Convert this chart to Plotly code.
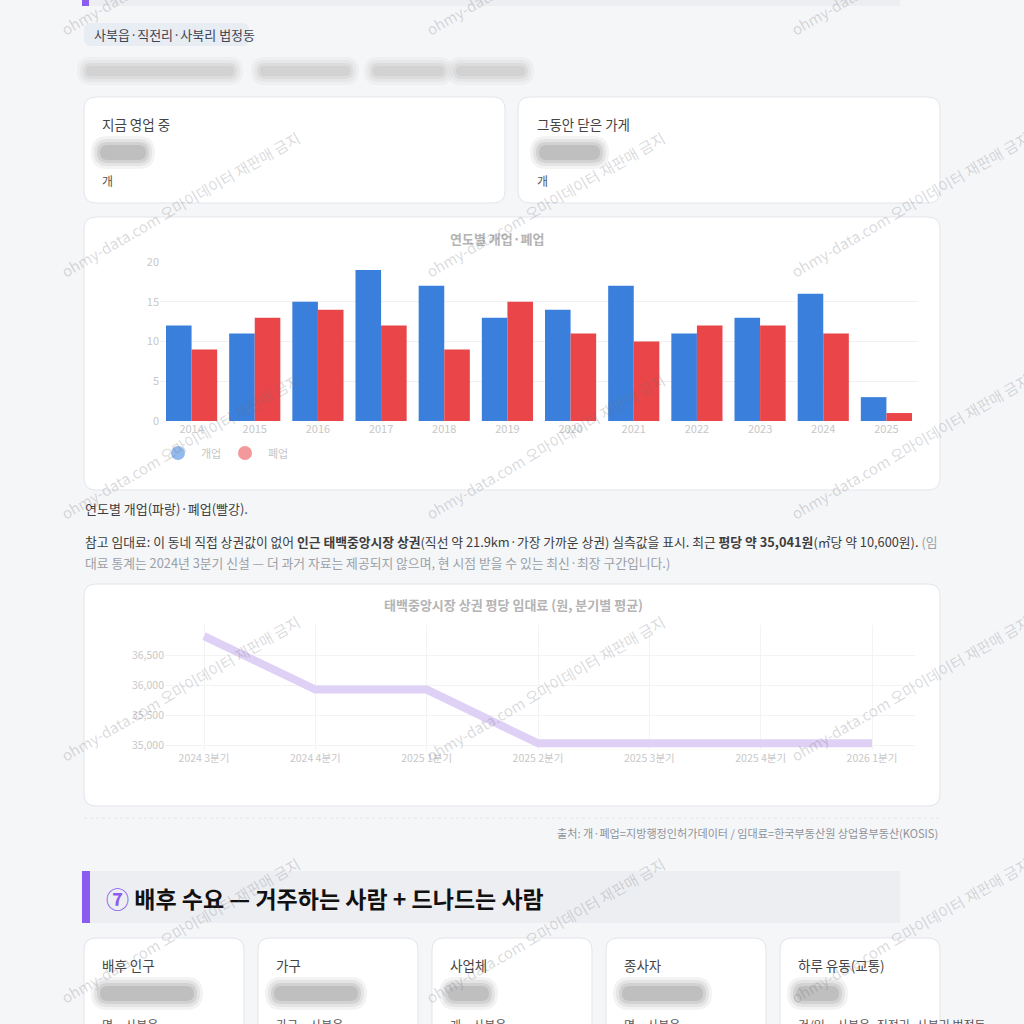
import plotly.graph_objects as go

W = H = 1024
FONT = "Noto Sans CJK KR, Noto Sans, sans-serif"

# ---------------- data ----------------
years = ["2014", "2015", "2016", "2017", "2018", "2019", "2020", "2021", "2022", "2023", "2024", "2025"]
opened = [12, 11, 15, 19, 17, 13, 14, 17, 11, 13, 16, 3]
closed = [9, 13, 14, 12, 9, 15, 11, 10, 12, 12, 11, 1]

quarters = ["2024 3분기", "2024 4분기", "2025 1분기", "2025 2분기", "2025 3분기", "2025 4분기", "2026 1분기"]
rent = [36815, 35930, 35930, 35041, 35041, 35041, 35041]
rent_ticks = [35000, 35500, 36000, 36500]
rent_tick_text = ["35,000", "35,500", "36,000", "36,500"]

bottom_labels = ["배후 인구", "가구", "사업체", "종사자", "하루 유동(교통)"]
bottom_units = ["명 · 사북읍", "가구 · 사북읍", "개 · 사북읍", "명 · 사북읍", "건/일 · 사북읍·직전리·사북리 법정동"]

BLUE = "#3a7fdc"
RED = "#ea4549"
PURPLE = "#8a5cf0"
BG = "#f5f6f8"
BORDER = "#e3e5ea"


def px(x):
    return x / W


def py(y):
    return 1 - y / H


def rrect(x0, y0, x1, y1, r, fill, line=None, lw=1, opacity=1.0, layer="below"):
    X0, X1 = px(x0), px(x1)
    Y0, Y1 = py(y0), py(y1)
    R = r / W
    path = (f"M {X0+R},{Y0} L {X1-R},{Y0} Q {X1},{Y0} {X1},{Y0-R} "
            f"L {X1},{Y1+R} Q {X1},{Y1} {X1-R},{Y1} L {X0+R},{Y1} "
            f"Q {X0},{Y1} {X0},{Y1+R} L {X0},{Y0-R} Q {X0},{Y0} {X0+R},{Y0} Z")
    return dict(type="path", xref="paper", yref="paper", path=path, fillcolor=fill,
                line=dict(color=line if line else fill, width=lw if line else 0),
                opacity=opacity, layer=layer)


def blob(x0, y0, x1, y1, color="#9c9c9c", strength=1.0):
    out = []
    for grow, op in [(7, 0.10), (4, 0.14), (1, 0.20), (-2, 0.26)]:
        h = (y1 - y0) / 2 + grow
        out.append(rrect(x0 - grow, y0 - grow, x1 + grow, y1 + grow, max(h, 1), color,
                         opacity=op * strength))
    return out


shapes = []
ann = []


def text(x, y, s, size=13, color="#444", anchor="left", vanchor="middle", bold=False, angle=0):
    if bold:
        s = f"<b>{s}</b>"
    ann.append(dict(x=px(x), y=py(y), xref="paper", yref="paper", text=s, showarrow=False,
                    xanchor=anchor, yanchor=vanchor, textangle=angle,
                    font=dict(size=size, color=color, family=FONT)))


# ---------------- page furniture ----------------
# previous section header (bottom edge)
shapes.append(dict(type="rect", xref="paper", yref="paper", x0=px(82), x1=px(900), y0=py(6), y1=py(-10),
                   fillcolor="#eceef2", line=dict(width=0), layer="below"))
shapes.append(dict(type="rect", xref="paper", yref="paper", x0=px(82), x1=px(89), y0=py(6), y1=py(-10),
                   fillcolor=PURPLE, line=dict(width=0), layer="below"))

# chip
shapes.append(rrect(84, 23, 249, 46, 7, "#e8ecf3"))
text(92, 34.5, "사북읍·직전리·사북리 법정동", size=13, color="#3f4450")

# blurred subtitle
for a, b in [(84, 236), (258, 352), (371, 446), (454, 527)]:
    shapes += blob(a, 64, b, 78, color="#b5b5b5", strength=1.0)

# KPI cards
shapes.append(rrect(84, 97, 505, 203, 12, "white", BORDER))
shapes.append(rrect(518, 97, 940, 203, 12, "white", BORDER))
text(100, 124, "지금 영업 중", size=13.5, color="#444")
text(535, 124, "그동안 닫은 가게", size=13.5, color="#444")
shapes += blob(98, 143, 148, 162, color="#8c8c8c")
shapes += blob(537, 143, 602, 162, color="#8c8c8c")
text(100, 180, "개", size=12, color="#555")
text(535, 180, "개", size=12, color="#555")

# bar card
shapes.append(rrect(84, 217, 940, 490, 12, "white", BORDER))
text(497, 238, "연도별 개업·폐업", size=13, color="#b4b4b4", anchor="center", bold=True)
# custom point-style legend
shapes.append(dict(type="circle", xref="paper", yref="paper", x0=px(171), x1=px(185), y0=py(446), y1=py(460),
                   fillcolor=BLUE, line=dict(width=0), opacity=0.55))
shapes.append(dict(type="circle", xref="paper", yref="paper", x0=px(238), x1=px(252), y0=py(446), y1=py(460),
                   fillcolor=RED, line=dict(width=0), opacity=0.55))
text(199, 453, "개업", size=11, color="#c6c6c6")
text(266, 453, "폐업", size=11, color="#c6c6c6")

# captions
text(83, 508, "연도별 개업(파랑)·폐업(빨강).", size=13, color="#3d3d3d")
GRAY = "#9aa0a8"
text(83, 541, "참고 임대료: 이 동네 직접 상권값이 없어 <b>인근 태백중앙시장 상권</b>(직선 약 21.9km·가장 가까운 상권) "
     "실측값을 표시. 최근 <b>평당 약 35,041원</b>(㎡당 약 10,600원). "
     f"<span style='color:{GRAY}'>(임</span>", size=12.8, color="#3d3d3d")
text(83, 562, "대료 통계는 2024년 3분기 신설 — 더 과거 자료는 제공되지 않으며, 현 시점 받을 수 있는 최신·최장 구간입니다.)",
     size=12.8, color=GRAY)

# line card
shapes.append(rrect(84, 584, 940, 806, 12, "white", BORDER))
text(513, 604, "태백중앙시장 상권 평당 임대료 (원, 분기별 평균)", size=13, color="#b4b4b4", anchor="center", bold=True)

# dashed separator + source
shapes.append(dict(type="line", xref="paper", yref="paper", x0=px(84), x1=px(940), y0=py(818), y1=py(818),
                   line=dict(color="#e2e4e8", width=1, dash="dot"), layer="below"))
text(940, 833, "출처: 개·폐업=지방행정인허가데이터 / 임대료=한국부동산원 상업용부동산(KOSIS)", size=11.1,
     color="#8e939b", anchor="right")

# section header ⑦
shapes.append(dict(type="rect", xref="paper", yref="paper", x0=px(82), x1=px(900), y0=py(923), y1=py(871),
                   fillcolor="#eceef2", line=dict(width=0), layer="below"))
shapes.append(dict(type="rect", xref="paper", yref="paper", x0=px(82), x1=px(90), y0=py(923), y1=py(871),
                   fillcolor=PURPLE, line=dict(width=0), layer="below"))
text(104, 898, f"<span style='color:{PURPLE}'>⑦</span> 배후 수요 — 거주하는 사람 + 드나드는 사람",
     size=23, color="#111111", bold=True)

# bottom cards
card_x = [84, 258, 432, 606, 780]
blob_w = [98, 88, 45, 85, 47]
for cx, lab, unit, bw in zip(card_x, bottom_labels, bottom_units, blob_w):
    shapes.append(rrect(cx, 938, cx + 160, 1060, 12, "white", BORDER))
    text(cx + 16, 965, lab, size=13.5, color="#444")
    shapes += blob(cx + 14, 984, cx + 14 + bw, 1003, color="#8c8c8c")
    text(cx + 16, 1014, unit, size=12, color="#555", vanchor="top")

# watermarks
for cy in [-38, 204, 446, 688, 930]:
    for cx in [180, 545, 910]:
        ann.append(dict(x=px(cx), y=py(cy), xref="paper", yref="paper",
                        text="ohmy-data.com 오마이데이터 재판매 금지", showarrow=False,
                        xanchor="center", yanchor="middle", textangle=-30,
                        font=dict(size=15, color="rgba(110,110,120,0.26)", family=FONT)))

# ---------------- traces ----------------
fig = go.Figure()
fig.add_trace(go.Bar(x=years, y=opened, name="개업", marker=dict(color=BLUE, line=dict(width=0)),
                     xaxis="x", yaxis="y", showlegend=False))
fig.add_trace(go.Bar(x=years, y=closed, name="폐업", marker=dict(color=RED, line=dict(width=0)),
                     xaxis="x", yaxis="y", showlegend=False))

xi = list(range(len(quarters)))
fig.add_trace(go.Scatter(x=xi, y=rent, mode="lines", line=dict(color="#dfd0f6", width=8),
                         xaxis="x2", yaxis="y2", showlegend=False, cliponaxis=False))

fig.update_layout(
    width=W, height=H, margin=dict(l=0, r=0, t=0, b=0, autoexpand=False),
    paper_bgcolor=BG, plot_bgcolor="rgba(0,0,0,0)",
    font=dict(family=FONT),
    barmode="group", bargap=0.19, bargroupgap=0.0,
    shapes=shapes, annotations=ann, showlegend=False,
    xaxis=dict(domain=[px(160), px(918)], anchor="y", showgrid=False, zeroline=False, showline=False,
               tickfont=dict(size=11, color="#c8c8c8"), ticks="", automargin=False),
    yaxis=dict(domain=[py(421), py(262)], anchor="x", range=[0, 20], dtick=5, showgrid=True,
               gridcolor="#f0f0f0", zeroline=False, showline=False,
               tickfont=dict(size=11, color="#c8c8c8"), ticks="", automargin=False),
    xaxis2=dict(domain=[px(165), px(915)], anchor="y2",
                range=[(165 - 204) / 111.33, 6 + (915 - 872) / 111.33],
                tickvals=xi, ticktext=quarters, showgrid=True, gridcolor="#f3f3f3",
                zeroline=False, showline=False, tickfont=dict(size=10.5, color="#c8c8c8"), ticks="",
                automargin=False),
    yaxis2=dict(domain=[py(750), py(625)], anchor="x2", range=[34930, 37000],
                tickvals=rent_ticks, ticktext=rent_tick_text, showgrid=True, gridcolor="#f3f3f3",
                zeroline=False, showline=False, tickfont=dict(size=10.5, color="#c8c8c8"), ticks="",
                automargin=False),
)

fig.write_html("out.html",
               post_script="document.documentElement.style.margin='0';document.body.style.margin='0';"
                           "document.body.style.overflow='hidden';")
